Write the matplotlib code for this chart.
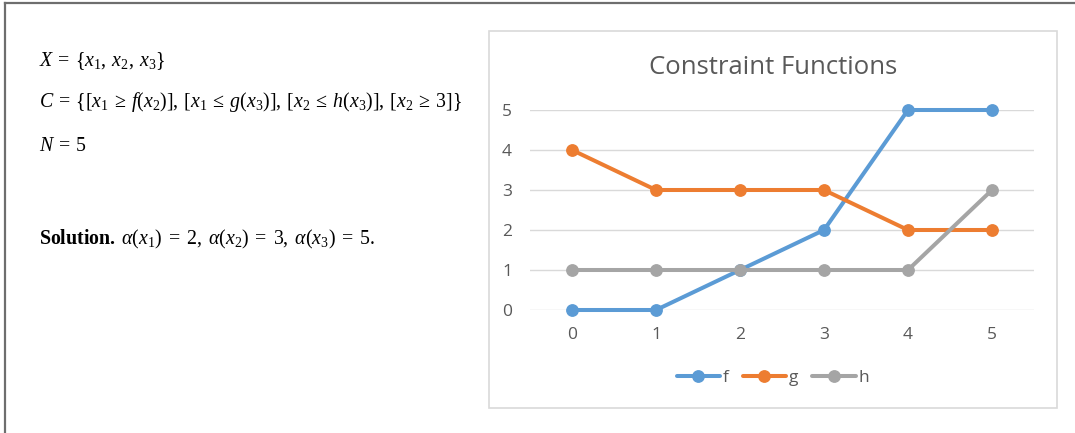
import matplotlib
matplotlib.use("Agg")
import matplotlib.pyplot as plt
from matplotlib.lines import Line2D
from matplotlib.patches import Rectangle

plt.rcParams['mathtext.fontset'] = 'custom'
plt.rcParams['mathtext.rm'] = 'Liberation Serif'
plt.rcParams['mathtext.it'] = 'Liberation Serif:italic'
plt.rcParams['mathtext.bf'] = 'Liberation Serif:bold'

x_vals = [0, 1, 2, 3, 4, 5]
f_vals = [0, 0, 1, 2, 5, 5]
g_vals = [4, 3, 3, 3, 2, 2]
h_vals = [1, 1, 1, 1, 1, 3]
series_names = ["f", "g", "h"]
series_colors = ["#5B9BD5", "#ED7D31", "#A5A5A5"]
y_ticks = [0, 1, 2, 3, 4, 5]
title = "Constraint Functions"

W, H = 1075, 433
fig = plt.figure(figsize=(W / 100, H / 100), dpi=100)

def fx(px):
    return px / W

def fy(py):
    return 1 - py / H

# outer frame (top and left)
fig.add_artist(Line2D([fx(5), fx(1075)], [fy(3), fy(3)], color="#6E6E6E", lw=1.6))
fig.add_artist(Line2D([fx(5.5), fx(5.5)], [fy(3), fy(433)], color="#6E6E6E", lw=1.6))

# chart box
fig.add_artist(Rectangle((fx(489), fy(408)), fx(1057) - fx(489), fy(31) - fy(408),
                         transform=fig.transFigure, fill=False, edgecolor="#D9D9D9", lw=1.2))

# left text
fs = 14.3
txt_x = fx(39)
S = r"\:"
T = r"\;"
fig.text(txt_x, fy(66), rf"$X{S}={S}\{{x_1,{S}x_2,{S}x_3\}}$", fontsize=fs, va="baseline", ha="left")
fig.text(txt_x, fy(107),
         rf"$C{S}={S}\{{[x_1{S}\geq{S}f(x_2)],{S}[x_1{S}\leq{S}g(x_3)],{S}[x_2{S}\leq{S}h(x_3)],{S}[x_2{S}\geq{S}3]\}}$",
         fontsize=fs, va="baseline", ha="left")
fig.text(txt_x, fy(151), rf"$N{S}={S}5$", fontsize=fs, va="baseline", ha="left")
fig.text(txt_x, fy(244),
         rf"$\mathbf{{Solution.}}{T}\alpha(x_1){T}={T}2,{T}\alpha(x_2){T}={T}3,{T}\alpha(x_3){T}={T}5.$",
         fontsize=fs, va="baseline", ha="left")

# chart axes
ax = fig.add_axes([fx(530), fy(310), fx(1034) - fx(530), fy(110) - fy(310)])
ax.set_xlim(-0.5, 5.5)
ax.set_ylim(0, 5)
for s in ax.spines.values():
    s.set_visible(False)
ax.set_yticks(y_ticks)
ax.set_xticks(x_vals)
ax.grid(axis="y", color="#D9D9D9", lw=1.0)
ax.set_axisbelow(True)
ax.tick_params(length=0, labelsize=12.5, labelcolor="#595959")
ax.tick_params(axis="y", pad=13)
ax.tick_params(axis="x", pad=12)
for lab in ax.get_xticklabels() + ax.get_yticklabels():
    lab.set_fontfamily("Open Sans")

for vals, name, col in zip([f_vals, g_vals, h_vals], series_names, series_colors):
    ax.plot(x_vals, vals, color=col, lw=2.9, marker="o", markersize=8.2,
            label=name, clip_on=False, solid_capstyle="round")

fig.text(fx(773), fy(68), title, fontsize=18.5, color="#595959", family="Open Sans",
         ha="center", va="center")

leg = fig.legend(*ax.get_legend_handles_labels(), loc="center",
                 bbox_to_anchor=(fx(773), fy(378)), ncol=3, frameon=False,
                 handlelength=2.5, handletextpad=0.17, columnspacing=0.8,
                 prop={"family": "Open Sans", "size": 12.5}, labelcolor="#595959")

fig.savefig("out.png", dpi=100)
